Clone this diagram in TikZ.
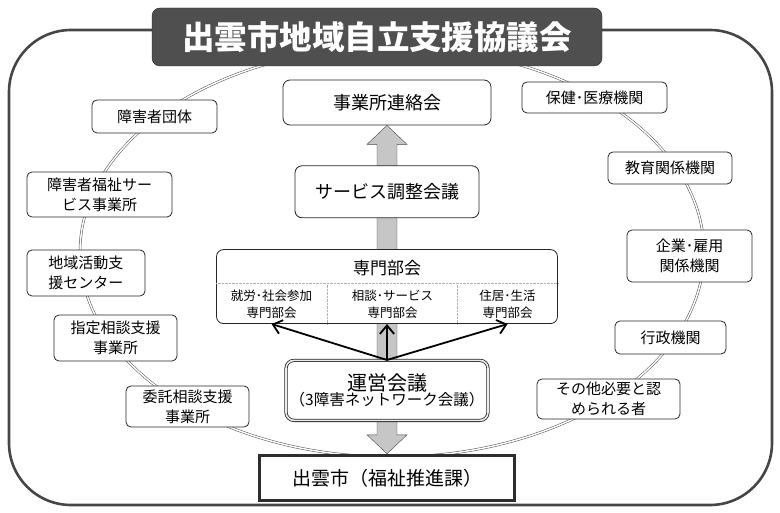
\documentclass[tikz,border=0pt]{standalone}
\usepackage{fontspec}
\setmainfont{Noto Sans CJK JP}
\usepackage{tikz}
\usetikzlibrary{arrows.meta, positioning, calc, backgrounds}
\newcommand{\fsz}[2]{\fontsize{#1}{#2}\selectfont}
\tikzset{
  frame/.style={draw=gray!55!black, line width=2.6pt, rounded corners=62pt},
  ring/.style={draw=gray!60!black, line width=0.5pt, double=white, double distance=1.5pt},
  council/.style={draw=gray!30!black, fill=gray!62!black, rounded corners=8pt, text=white, font=\fsz{32.5pt}{36pt}\bfseries, minimum width=450pt, minimum height=58pt},
  member/.style={draw=gray!30!black, thick, rounded corners=5pt, fill=white, align=center, font=\fsz{15pt}{20pt}, inner sep=1pt},
  hub/.style={draw=gray!30!black, thick, rounded corners=7pt, fill=white, align=center, font=\fsz{18pt}{22pt}},
  part/.style={align=center, font=\fsz{12.5pt}{17pt}, inner sep=1pt, minimum height=40pt},
  steering/.style={draw=gray!30!black, line width=0.8pt, double=gray!15, double distance=1.6pt, rounded corners=8pt, fill=white, align=center, minimum width=202pt, minimum height=60pt},
  cityhall/.style={draw=gray!35!black, line width=3pt, fill=white, font=\fsz{19pt}{22pt}, minimum width=255pt, minimum height=45pt},
  bigarrow/.style={fill=gray!45, draw=gray!55!black, thin},
  push/.style={-{Straight Barb[length=3mm, width=5mm]}, line width=1.8pt},
  divider/.style={draw=gray!60, densely dotted, thin}
}

\begin{document}
\begin{tikzpicture}[x=1pt, y=-1pt]
    \useasboundingbox (0,0) rectangle (780,513);
    % central column
    \node[hub, minimum width=208pt, minimum height=45pt] (liaison) at (387,102.5) {事業所連絡会};
    \node[hub, below=40pt of liaison, minimum width=184pt, minimum height=52pt] (adjust) {サービス調整会議};
    \node[hub, below=31pt of adjust, minimum width=341pt, minimum height=74pt] (panel) {};
    \node[font=\fsz{17pt}{20pt}] (panelhead) at ($(panel.north)+(0,19)$) {専門部会};
    \node[part, anchor=south] (work) at ($(panel.south west)+(55.5,0)$) {就労･社会参加\\専門部会};
    \node[part, anchor=south] (consult) at ($(panel.south west)+(176.5,0)$) {相談･サービス\\専門部会};
    \node[part, anchor=south] (living) at ($(panel.south west)+(291.5,0)$) {住居･生活\\専門部会};
    \draw[divider] ($(panel.north west)+(0,34)$) -- ($(panel.north east)+(0,34)$);
    \draw[divider] ($(panel.north west)+(111,34)$) -- ($(panel.south west)+(111,0)$);
    \draw[divider] ($(panel.north west)+(241,34)$) -- ($(panel.south west)+(241,0)$);
    \node[steering, below=36pt of panel] (steer) {{\fsz{20pt}{24pt}運営会議}\\[-1pt]{\fsz{15.5pt}{18pt}（3障害ネットワーク会議）}};
    \node[cityhall, below=33pt of steer] (city) {出雲市（福祉推進課）};

    \node[council] (title) at (377,37) {出雲市地域自立支援協議会};

    % members on the ring
    \node[member, minimum width=125pt, minimum height=33pt] (groups) at (154.5,116.5) {障害者団体};
    \node[member, minimum width=145pt, minimum height=45pt] (welfare) at (99.5,194.5) {障害者福祉サー\\ビス事業所};
    \node[member, minimum width=118pt, minimum height=46pt] (local) at (86,273) {地域活動支\\援センター};
    \node[member, minimum width=123pt, minimum height=46pt] (desig) at (115.5,338) {指定相談支援\\事業所};
    \node[member, minimum width=123pt, minimum height=41pt] (entrust) at (187.5,406.5) {委託相談支援\\事業所};
    \node[member, minimum width=145pt, minimum height=31pt] (health) at (594.5,97.5) {保健･医療機関};
    \node[member, minimum width=124pt, minimum height=32pt] (school) at (670,168) {教育関係機関};
    \node[member, minimum width=125pt, minimum height=52pt] (firm) at (689.5,256) {企業･雇用\\関係機関};
    \node[member, minimum width=111pt, minimum height=33pt] (admin) at (670.5,337.5) {行政機関};
    \node[member, minimum width=143pt, minimum height=40pt] (other) at (608.5,399) {その他必要と認\\められる者};

    \draw[push] (steer.north) -- (work.south);
    \draw[push] (steer.north) -- (consult.south -| steer.north);
    \draw[push] (steer.north) -- (living.south);

    \begin{scope}[on background layer]
        \draw[frame] (9,30) rectangle (772,505);
        \draw[ring] (392,252) ellipse [x radius=312, y radius=205];
        \draw[bigarrow] (liaison.south) -- ++(20,19) -- ++(-10,0) -- ($(city.north)+(10,-19)$) -- ++(10,0) -- (city.north) -- ++(-20,-19) -- ++(10,0) -- ($(liaison.south)+(-10,19)$) -- ++(-10,0) -- cycle;
    \end{scope}
\end{tikzpicture}
\end{document}
